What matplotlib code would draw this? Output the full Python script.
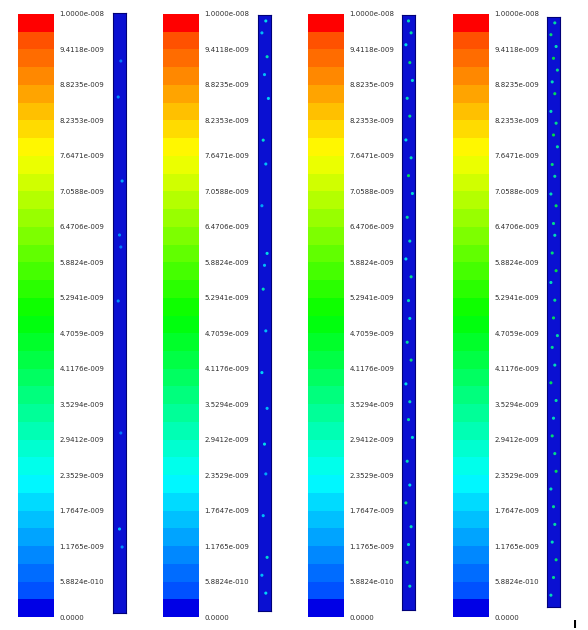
import numpy as np
import matplotlib
matplotlib.use("Agg")
import matplotlib.pyplot as plt
import matplotlib.colors as mcolors
import matplotlib.colorbar as mcolorbar

# colour scale labels (same for all four panels)
tick_labels = ["0.0000", "5.8824e-010", "1.1765e-009", "1.7647e-009", "2.3529e-009",
               "2.9412e-009", "3.5294e-009", "4.1176e-009", "4.7059e-009", "5.2941e-009",
               "5.8824e-009", "6.4706e-009", "7.0588e-009", "7.6471e-009", "8.2353e-009",
               "8.8235e-009", "9.4118e-009", "1.0000e-008"]
tick_values = [0.0, 5.8824e-10, 1.1765e-09, 1.7647e-09, 2.3529e-09, 2.9412e-09,
               3.5294e-09, 4.1176e-09, 4.7059e-09, 5.2941e-09, 5.8824e-09, 6.4706e-09,
               7.0588e-09, 7.6471e-09, 8.2353e-09, 8.8235e-09, 9.4118e-09, 1.0e-08]
n_bands = 34

# speckles in each strip: y from top (0..1), x across (0..1), value (0..1 of scale)
dots_y = [
    [0.08, 0.14, 0.28, 0.37, 0.39, 0.48, 0.70, 0.86, 0.89],
    [0.01, 0.03, 0.07, 0.10, 0.14, 0.21, 0.25, 0.32, 0.40, 0.42, 0.46, 0.53, 0.60,
     0.66, 0.72, 0.77, 0.84, 0.91, 0.94, 0.97],
    [0.01, 0.03, 0.05, 0.08, 0.11, 0.14, 0.17, 0.21, 0.24, 0.27, 0.30, 0.34, 0.38,
     0.41, 0.44, 0.48, 0.51, 0.55, 0.58, 0.62, 0.65, 0.68, 0.71, 0.75, 0.79, 0.82,
     0.86, 0.89, 0.92, 0.96],
    [0.01, 0.03, 0.05, 0.07, 0.09, 0.11, 0.13, 0.16, 0.18, 0.20, 0.22, 0.25, 0.27,
     0.30, 0.32, 0.35, 0.37, 0.40, 0.43, 0.45, 0.48, 0.51, 0.54, 0.56, 0.59, 0.62,
     0.65, 0.68, 0.71, 0.74, 0.77, 0.80, 0.83, 0.86, 0.89, 0.92, 0.95, 0.98],
]
dots_x = [
    [0.6, 0.4, 0.7, 0.5, 0.6, 0.4, 0.6, 0.5, 0.7],
    [0.6, 0.3, 0.7, 0.5, 0.8, 0.4, 0.6, 0.3, 0.7, 0.5, 0.4, 0.6, 0.3, 0.7, 0.5,
     0.6, 0.4, 0.7, 0.3, 0.6],
    [0.5, 0.7, 0.3, 0.6, 0.8, 0.4, 0.6, 0.3, 0.7, 0.5, 0.8, 0.4, 0.6, 0.3, 0.7,
     0.5, 0.6, 0.4, 0.7, 0.3, 0.6, 0.5, 0.8, 0.4, 0.6, 0.3, 0.7, 0.5, 0.4, 0.6],
    [0.6, 0.3, 0.7, 0.5, 0.8, 0.4, 0.6, 0.3, 0.7, 0.5, 0.8, 0.4, 0.6, 0.3, 0.7,
     0.5, 0.6, 0.4, 0.7, 0.3, 0.6, 0.5, 0.8, 0.4, 0.6, 0.3, 0.7, 0.5, 0.4, 0.6,
     0.7, 0.3, 0.5, 0.6, 0.4, 0.7, 0.5, 0.3],
]
dots_v = [
    [0.10, 0.12, 0.15, 0.12, 0.10, 0.14, 0.10, 0.18, 0.12],
    [0.25, 0.20, 0.30, 0.18, 0.22, 0.28, 0.20, 0.15, 0.25, 0.18, 0.30, 0.20, 0.22,
     0.18, 0.25, 0.15, 0.20, 0.28, 0.18, 0.22],
    [0.30, 0.35, 0.25, 0.40, 0.28, 0.32, 0.38, 0.25, 0.30, 0.42, 0.28, 0.35, 0.30,
     0.25, 0.38, 0.30, 0.28, 0.35, 0.40, 0.25, 0.30, 0.35, 0.28, 0.32, 0.25, 0.38,
     0.30, 0.28, 0.35, 0.30],
    [0.35, 0.40, 0.30, 0.45, 0.38, 0.32, 0.42, 0.30, 0.36, 0.45, 0.33, 0.40, 0.35,
     0.30, 0.44, 0.36, 0.32, 0.40, 0.45, 0.30, 0.38, 0.42, 0.33, 0.36, 0.30, 0.44,
     0.35, 0.32, 0.40, 0.36, 0.42, 0.30, 0.38, 0.35, 0.32, 0.40, 0.36, 0.30],
]

# banded rainbow: blue at the bottom, red at the top
hues = np.concatenate([[240.0], np.linspace(221, 19, n_bands - 2), [0.0]]) / 360.0
sats = np.ones(n_bands)
vals_hsv = np.ones(n_bands)
vals_hsv[0] = 0.9
band_colors = mcolors.hsv_to_rgb(np.column_stack([hues, sats, vals_hsv]))
cmap = mcolors.ListedColormap(band_colors)
bounds = np.linspace(tick_values[0], tick_values[-1], n_bands + 1)
norm = mcolors.BoundaryNorm(bounds, cmap.N)

W, H = 588, 630
fig = plt.figure(figsize=(W / 100, H / 100), dpi=100)
fig.patch.set_facecolor("white")

strip_boxes = [(113, 13, 613), (258, 15, 611), (402, 15, 610), (547, 17, 607)]

for i in range(4):
    x0 = 18 + 145 * i
    cax = fig.add_axes([x0 / W, (H - 617) / H, 36 / W, 603 / H])
    cb = mcolorbar.ColorbarBase(cax, cmap=cmap, norm=norm, boundaries=bounds,
                                ticks=tick_values, spacing="uniform")
    cb.outline.set_visible(False)
    cb.ax.minorticks_off()
    cb.ax.set_yticklabels(tick_labels)
    cb.ax.tick_params(which="both", length=0, pad=4, labelsize=5, labelcolor="#2e2e2e")

    sx, st, sb = strip_boxes[i]
    sax = fig.add_axes([sx / W, (H - sb) / H, 13 / W, (sb - st) / H])
    sax.set_facecolor("#0a10d2")
    for sp in sax.spines.values():
        sp.set_color("#000078")
        sp.set_linewidth(0.8)
    sax.set_xticks([])
    sax.set_yticks([])
    sax.set_xlim(0, 1)
    sax.set_ylim(1, 0)
    vals = np.array(dots_v[i]) * tick_values[-1]
    sax.scatter(dots_x[i], dots_y[i], c=vals, cmap=cmap, norm=norm,
                s=5, marker="o", linewidths=0, alpha=0.85)

fig.text(575 / W, 0.0, "I", fontsize=8, fontweight="bold", color="black",
         ha="center", va="bottom")

fig.savefig("out.png", dpi=100, facecolor="white")
